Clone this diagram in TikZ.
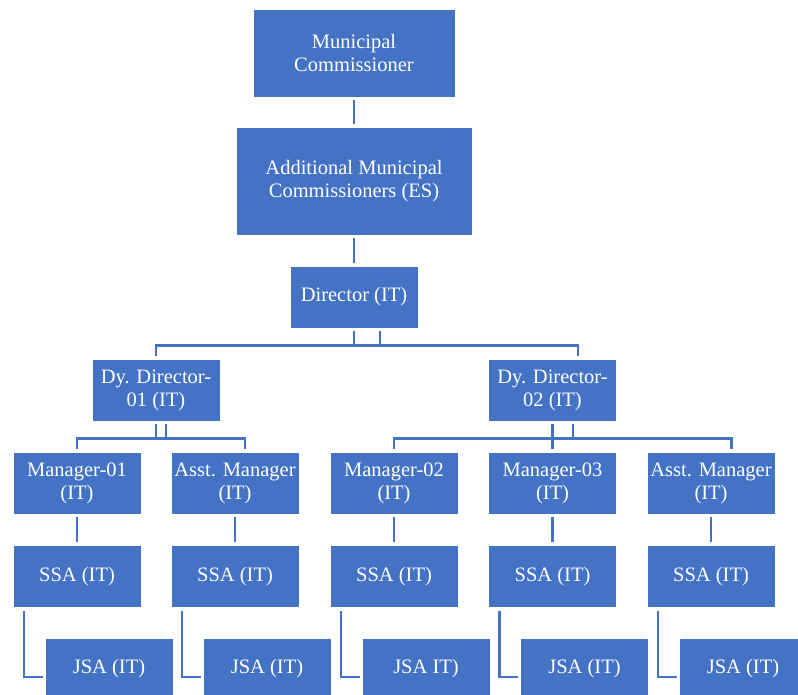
\documentclass[tikz,border=0pt]{standalone}
\usepackage{fontspec}
\setmainfont{Liberation Serif}
\usetikzlibrary{calc}

\definecolor{orgblue}{RGB}{68,114,196}
\tikzset{every picture/.style={line width=0.75pt}}
\tikzset{
  post/.style={draw=white, fill=orgblue, text=white, line width=0.6pt, inner sep=0pt,
    align=center, minimum width=128pt, minimum height=62pt, font=\fontsize{20.5}{23}\selectfont},
  link/.style={draw=orgblue, line width=2.4pt, shorten <=3pt, shorten >=3pt},
  bridge/.style={draw=orgblue, line width=2.4pt},
}

\begin{document}
\begin{tikzpicture}[x=1pt,y=1pt,yscale=-1,xscale=1]
	\useasboundingbox (0,0) rectangle (798,695);

	% top of the chart
	\node[post, minimum width=202pt, minimum height=88pt] (comm) at (354,53) {Municipal\\Commissioner};
	\node[post, minimum width=236pt, minimum height=108pt] (addl) at (354,181) {Additional Municipal\\Commissioners (ES)};
	\node[post] (dir) at (354,297) {Director (IT)};
	\node[post] (dy1) at (156,390) {Dy. Director-\\01 (IT)};
	\node[post] (dy2) at (552.5,390) {Dy. Director-\\02 (IT)};

	% managers, SSA and JSA columns
	\foreach \i/\cx/\t/\jt in {1/77/{Manager-01\\(IT)}/{JSA (IT)}, 2/235/{Asst. Manager\\(IT)}/{JSA (IT)},
	    3/394/{Manager-02\\(IT)}/{JSA IT)}, 4/552.5/{Manager-03\\(IT)}/{JSA (IT)}, 5/711/{Asst. Manager\\(IT)}/{JSA (IT)}} {
		\node[post] (mgr\i) at (\cx,483) {\t};
		\node[post] (ssa\i) at (\cx,576.5) {SSA (IT)};
		\node[post] (jsa\i) at (\cx+32,669) {\jt};
		\draw[link] (mgr\i) -- (ssa\i);
		\draw[link, shorten >=2pt] ([xshift=-53pt]ssa\i.south) |- ($(jsa\i.west)+(0,8)$);
	}

	\draw[link] (comm) -- (addl);
	\draw[link] (addl) -- (dir);
	\draw[link] (dir.south) -- ++(0,17) -| (dy1.north);
	\draw[link] ([xshift=26pt]dir.south) -- ++(0,17) -| ([xshift=25.5pt]dy2.north);
	\draw[bridge] (dir.south) ++(0,17) -- ++(26,0);

	\draw[link] (dy1.south) -- ++(0,17) -| (mgr1.north);
	\draw[link] ([xshift=10pt]dy1.south) -- ++(0,17) -| ([xshift=10pt]mgr2.north);
	\draw[bridge] (dy1.south) ++(0,17) -- ++(10,0);

	\draw[link] (dy2.south) -- ++(0,17) -| (mgr3.north);
	\draw[link] (dy2.south) -- (mgr4.north);
	\draw[link] ([xshift=20.5pt]dy2.south) -- ++(0,17) -| ([xshift=20.5pt]mgr5.north);
	\draw[bridge] (dy2.south) ++(0,17) -- ++(20.5,0);
\end{tikzpicture}
\end{document}
